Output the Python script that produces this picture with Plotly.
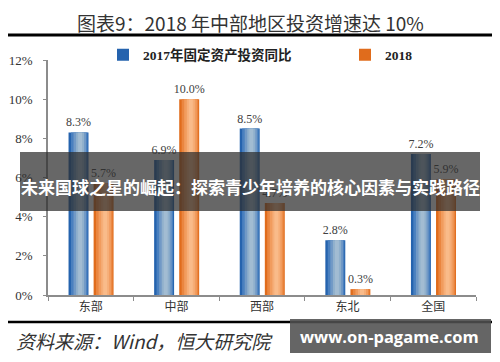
import plotly.graph_objects as go

categories = ["东部", "中部", "西部", "东北", "全国"]
growth_2017 = [8.3, 6.9, 8.5, 2.8, 7.2]
growth_2018 = [5.7, 10.0, 4.7, 0.3, 5.9]
y_ticks = [0, 2, 4, 6, 8, 10, 12]
y_tick_labels = [f"{v}%" for v in y_ticks]

# page body has an 8px margin; work in screenshot pixels and shift
OFF = 8
W, H = 500 - OFF, 362 - OFF
L, R, T, B = 48 - OFF, 24, 60 - OFF, 67
pw, ph = W - L - R, H - T - B

def px(x):
    return (x - OFF - L) / pw

def py(y):
    return (H - B - (y - OFF)) / ph

def cx(x):
    return (x - OFF) / W

def cy(y):
    return 1 - (y - OFF) / H

serif = "Liberation Serif, Noto Sans CJK SC, serif"
cjk = "Noto Sans CJK SC, sans-serif"

BAR_W = 0.233
series = [
    dict(name="2017年固定资产投资同比", values=growth_2017, offset=-0.26, legend="legend",
         layers=[(0.0, 1.0, "#2563ae"), (0.12, 0.95, "#4a80bf"), (0.25, 0.88, "#7199c6"),
                 (0.38, 0.78, "#90b0cc"), (0.48, 0.68, "#a2bcd2")]),
    dict(name="2018", values=growth_2018, offset=0.033, legend="legend2",
         layers=[(0.0, 1.0, "#e06c1c"), (0.12, 0.95, "#ea8640"), (0.25, 0.88, "#f19c5e"),
                 (0.38, 0.78, "#f6ae78"), (0.48, 0.68, "#f9bb8a")]),
]

fig = go.Figure()
for s in series:
    for i, (a, b, col) in enumerate(s["layers"]):
        first = i == 0
        fig.add_bar(
            x=categories, y=s["values"], name=s["name"], legend=s["legend"],
            showlegend=first, hoverinfo="skip" if not first else None,
            width=BAR_W * (b - a), offset=s["offset"] + BAR_W * a,
            marker=dict(color=col, line=dict(width=0)),
            text=[f"{v:.1f}%" for v in s["values"]] if first else None,
            textposition="outside" if first else "none", constraintext="none",
            textfont=dict(family=serif, size=12, color="#404040"), cliponaxis=False,
        )

legend_common = dict(orientation="h", yref="container", xref="container", yanchor="middle",
                     xanchor="left", itemwidth=30, bgcolor="rgba(0,0,0,0)",
                     font=dict(family=serif, size=13.5, color="#222", weight="bold"))

fig.update_layout(
    width=W, height=H, margin=dict(l=L, r=R, t=T, b=B, autoexpand=False),
    paper_bgcolor="white", plot_bgcolor="white",
    barmode="overlay",
    showlegend=True,
    legend=dict(x=cx(103), y=cy(55), **legend_common),
    legend2=dict(x=cx(345), y=cy(55), **legend_common),
    xaxis=dict(showline=True, linecolor="#8c8c8c", linewidth=1.5, ticks="outside",
               tickson="boundaries", ticklen=4, tickcolor="#8c8c8c", automargin=False,
               range=[-0.5, 4.5],
               tickfont=dict(family=cjk, size=12, color="#333"), showgrid=False),
    yaxis=dict(range=[0, 12], tickvals=y_ticks, ticktext=y_tick_labels, automargin=False,
               showline=True, linecolor="#8c8c8c", linewidth=1.5, ticks="outside",
               ticklen=3, tickcolor="#8c8c8c", showgrid=False, zeroline=False,
               ticklabelstandoff=8,
               tickfont=dict(family=serif, size=13, color="#333")),
    shapes=[
        dict(type="line", xref="paper", yref="paper", x0=px(3), x1=px(497), y0=py(35), y1=py(35),
             line=dict(color="black", width=3)),
        dict(type="line", xref="paper", yref="paper", x0=px(3), x1=px(497), y0=py(322), y1=py(322),
             line=dict(color="black", width=2.5)),
        dict(type="rect", xref="paper", yref="paper", x0=px(20), x1=px(480), y0=py(152), y1=py(211),
             fillcolor="rgba(45,45,45,0.72)", line=dict(width=0), layer="above"),
        dict(type="rect", xref="paper", yref="paper", x0=px(290), x1=px(491), y0=py(319), y1=py(353),
             fillcolor="rgba(80,80,80,0.88)", line=dict(width=0), layer="above"),
    ],
    annotations=[
        dict(text="图表9：2018 年中部地区投资增速达 10%", xref="paper", yref="paper",
             x=px(250), y=py(22), xanchor="center", yanchor="middle", showarrow=False,
             font=dict(family=cjk, size=19, color="#333")),
        dict(text="未来国球之星的崛起：探索青少年培养的核心因素与实践路径", xref="paper", yref="paper",
             x=px(250), y=py(186), xanchor="center", yanchor="middle", showarrow=False,
             font=dict(family=cjk, size=17, color="white", weight="bold")),
        dict(text="资料来源：Wind，恒大研究院", xref="paper", yref="paper",
             x=px(14), y=py(340), xanchor="left", yanchor="middle", showarrow=False,
             font=dict(family=cjk, size=19, color="#333", style="italic")),
        dict(text="www.on-pagame.com", xref="paper", yref="paper",
             x=px(389), y=py(336), xanchor="center", yanchor="middle", showarrow=False,
             font=dict(family="Open Sans, sans-serif", size=16.5, color="white", weight="bold")),
    ],
)

fig.write_html("out.html")
